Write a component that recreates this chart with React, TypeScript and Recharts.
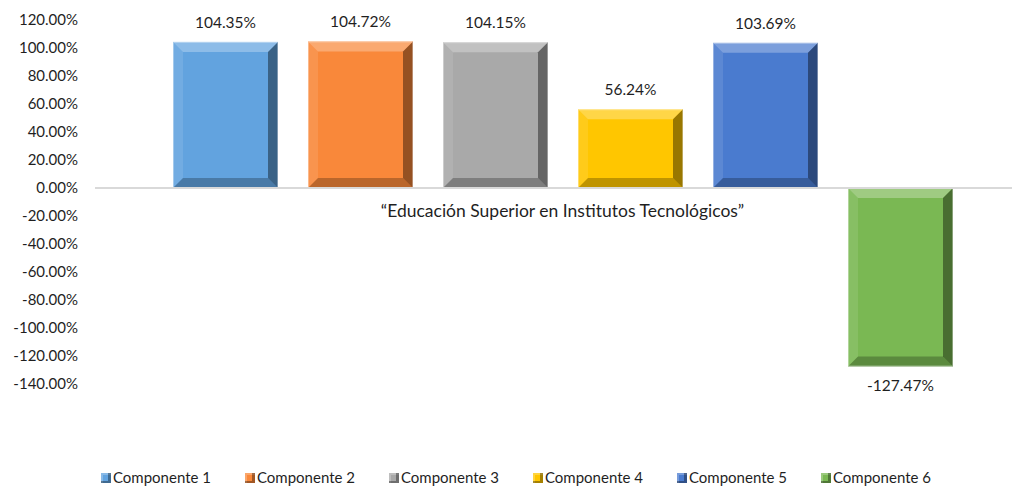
import { BarChart, Bar, XAxis, YAxis, ReferenceLine, LabelList } from 'recharts';

const categories = ['“Educación Superior en Institutos Tecnológicos”'];
const seriesNames = [
  'Componente 1',
  'Componente 2',
  'Componente 3',
  'Componente 4',
  'Componente 5',
  'Componente 6',
];
const seriesValues = [104.35, 104.72, 104.15, 56.24, 103.69, -127.47];
const seriesColors = ['#62a3df', '#f9883a', '#a9a9a9', '#ffc600', '#4a7bcf', '#7ab853'];
const yTicks = [-140, -120, -100, -80, -60, -40, -20, 0, 20, 40, 60, 80, 100, 120];

const keys = seriesNames.map((_, i) => `c${i + 1}`);
const data = categories.map((name) => {
  const row: Record<string, string | number> = { name };
  keys.forEach((k, i) => {
    row[k] = seriesValues[i];
  });
  return row;
});

const textColor = '#1f1f1f';
const fontFamily = 'Lato, "Open Sans", sans-serif';
const pct = (v: number) => `${Number(v).toFixed(2)}%`;

// bar with a bevelled edge, like the office "cool slant" effect
const BevelBar = (props: any) => {
  const { x, y, width, height, fill } = props;
  if (width == null || height == null) return null;
  const top = Math.min(y, y + height);
  const h = Math.abs(height);
  const w = width;
  const b = Math.min(10, h / 2, w / 2);
  const x2 = x + w;
  const y2 = top + h;
  return (
    <g>
      <rect x={x} y={top} width={w} height={h} fill={fill} />
      <polygon
        points={`${x},${top} ${x2},${top} ${x2 - b},${top + b} ${x + b},${top + b}`}
        fill="#ffffff"
        fillOpacity={0.28}
      />
      <polygon
        points={`${x},${top} ${x + b},${top + b} ${x + b},${y2 - b} ${x},${y2}`}
        fill="#ffffff"
        fillOpacity={0.1}
      />
      <polygon
        points={`${x2},${top} ${x2},${y2} ${x2 - b},${y2 - b} ${x2 - b},${top + b}`}
        fill="#000000"
        fillOpacity={0.4}
      />
      <polygon
        points={`${x},${y2} ${x + b},${y2 - b} ${x2 - b},${y2 - b} ${x2},${y2}`}
        fill="#000000"
        fillOpacity={0.25}
      />
      <rect
        x={x + 0.5}
        y={top + 0.5}
        width={w - 1}
        height={h - 1}
        fill="none"
        stroke="#ffffff"
        strokeOpacity={0.35}
      />
    </g>
  );
};

function ChartLegend() {
  return (
    <div
      style={{
        position: 'absolute',
        top: 470,
        left: 101,
        display: 'flex',
        fontFamily,
        fontSize: 15,
        lineHeight: '15px',
        color: textColor,
      }}
    >
      {seriesNames.map((n, i) => (
        <div key={n} style={{ width: 144, display: 'flex', alignItems: 'center' }}>
          <span
            style={{
              width: 10,
              height: 10,
              marginRight: 2,
              background: seriesColors[i],
              boxShadow: 'inset -3px -2px 0 rgba(0,0,0,0.35), inset 2px 2px 0 rgba(255,255,255,0.25)',
            }}
          />
          <span>{n}</span>
        </div>
      ))}
    </div>
  );
}

export default function App() {
  return (
    <div
      style={{
        position: 'absolute',
        top: 0,
        left: 0,
        width: 1012,
        height: 487,
        overflow: 'hidden',
        background: '#ffffff',
      }}
    >
      <BarChart
        width={1030}
        height={487}
        data={data}
        margin={{ top: 20, right: 0, bottom: 103, left: 0 }}
        barSize={105}
        barGap={30}
      >
        <XAxis dataKey="name" hide />
        <YAxis
          domain={[-140, 120]}
          ticks={yTicks}
          interval={0}
          width={95}
          axisLine={false}
          tickLine={false}
          tickSize={0}
          tickMargin={17}
          tickFormatter={pct}
          tick={{ fill: textColor, fontSize: 15, fontFamily }}
        />
        <ReferenceLine
          y={0}
          stroke="#d9d9d9"
          strokeWidth={2}
          label={{
            value: categories[0],
            position: 'bottom',
            offset: 17,
            fill: textColor,
            fontSize: 17.5,
            fontFamily,
          }}
        />
        {keys.map((k, i) => (
          <Bar
            key={k}
            dataKey={k}
            name={seriesNames[i]}
            fill={seriesColors[i]}
            shape={<BevelBar />}
            isAnimationActive={false}
          >
            <LabelList
              dataKey={k}
              position="top"
              offset={14}
              formatter={pct}
              fill={textColor}
              fontSize={15.5}
              fontFamily={fontFamily}
            />
          </Bar>
        ))}
      </BarChart>
      <ChartLegend />
    </div>
  );
}
